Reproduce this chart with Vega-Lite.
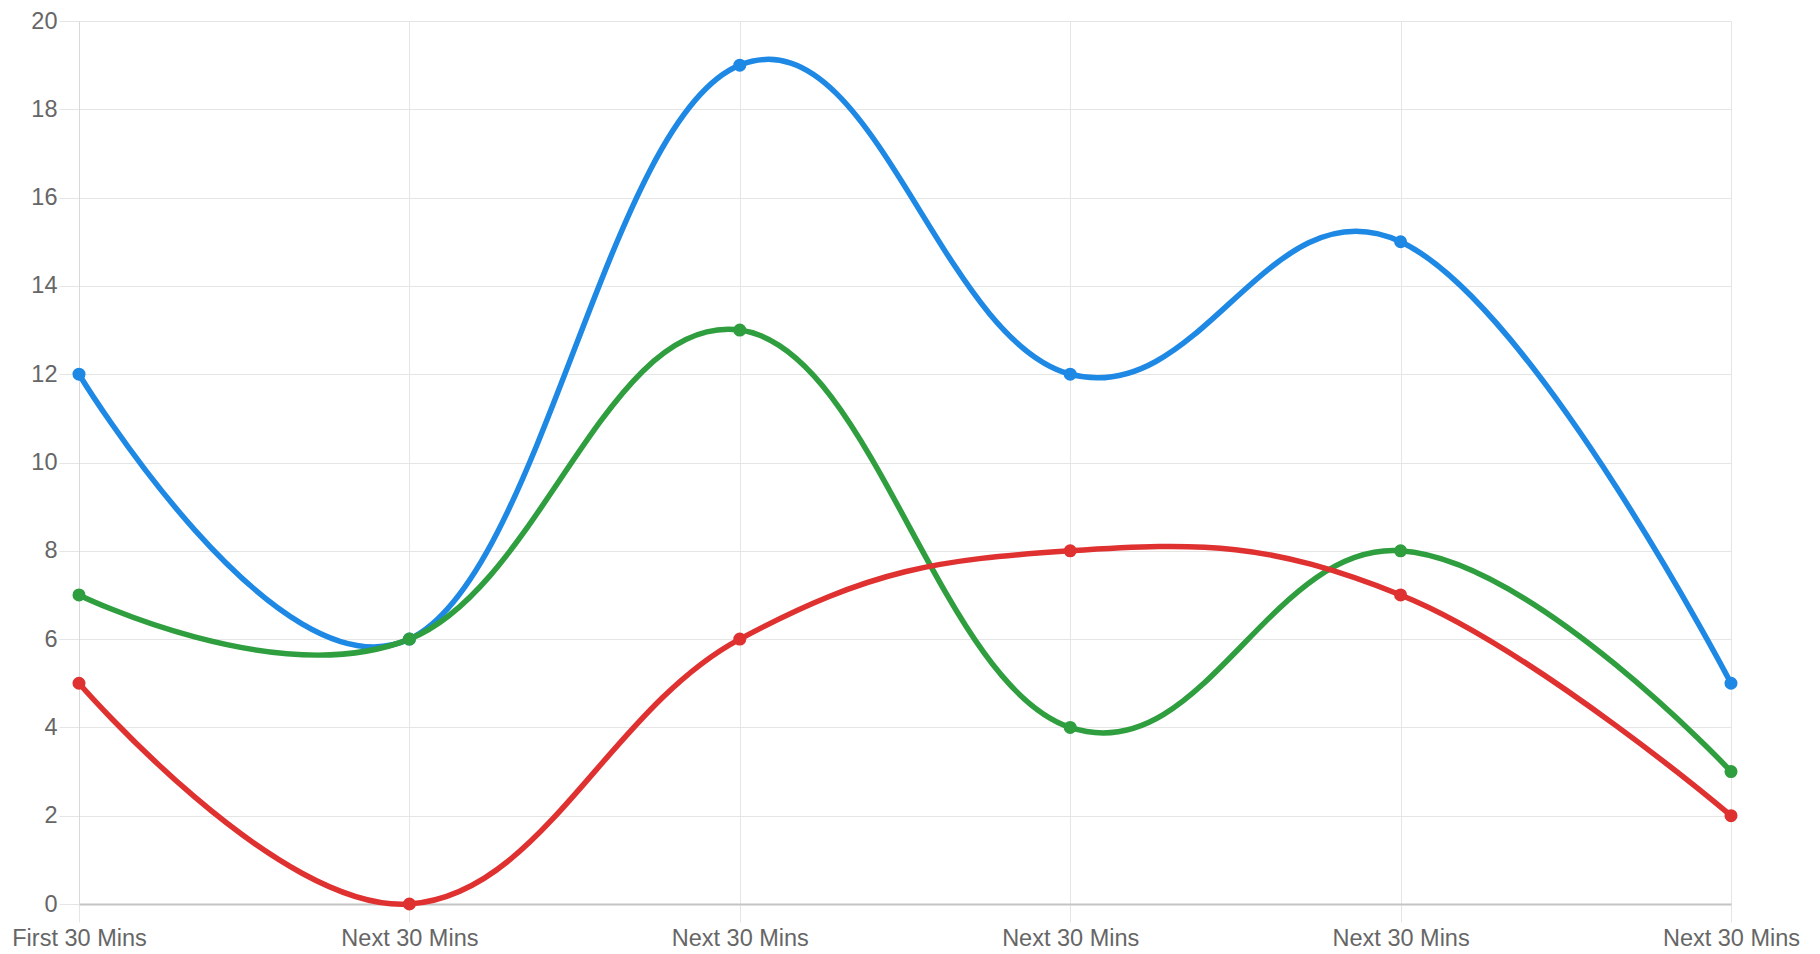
{
  "$schema": "https://vega.github.io/schema/vega-lite/v6.json",
  "width": 1652,
  "height": 883,
  "autosize": {"type": "none"},
  "padding": {"left": 79, "top": 21, "right": 89, "bottom": 50},
  "background": "white",
  "config": {
    "view": {"stroke": null},
    "font": "Liberation Sans"
  },
  "data": {
    "values": [
      {"i": 0, "s": "a", "v": 12}, {"i": 1, "s": "a", "v": 6}, {"i": 2, "s": "a", "v": 19},
      {"i": 3, "s": "a", "v": 12}, {"i": 4, "s": "a", "v": 15}, {"i": 5, "s": "a", "v": 5},
      {"i": 0, "s": "b", "v": 7}, {"i": 1, "s": "b", "v": 6}, {"i": 2, "s": "b", "v": 13},
      {"i": 3, "s": "b", "v": 4}, {"i": 4, "s": "b", "v": 8}, {"i": 5, "s": "b", "v": 3},
      {"i": 0, "s": "c", "v": 5}, {"i": 1, "s": "c", "v": 0}, {"i": 2, "s": "c", "v": 6},
      {"i": 3, "s": "c", "v": 8}, {"i": 4, "s": "c", "v": 7}, {"i": 5, "s": "c", "v": 2}
    ]
  },
  "encoding": {
    "x": {
      "field": "i", "type": "quantitative",
      "scale": {"domain": [0, 5], "nice": false, "zero": false},
      "axis": {
        "title": null,
        "values": [0, 1, 2, 3, 4, 5],
        "labelExpr": "datum.value == 0 ? 'First 30 Mins' : 'Next 30 Mins'",
        "labelFontSize": 23.5, "labelColor": "#666666", "labelFont": "Liberation Sans",
        "labelOverlap": false, "labelFlush": false, "labelBound": false,
        "tickSize": 18, "tickColor": "#e5e5e5", "tickWidth": 1,
        "labelPadding": 4,
        "grid": true, "gridColor": "#e5e5e5", "gridWidth": 1,
        "domainColor": "#c4c4c4", "domainWidth": 2
      }
    },
    "y": {
      "field": "v", "type": "quantitative",
      "scale": {"domain": [0, 20], "nice": false},
      "axis": {
        "title": null,
        "values": [0, 2, 4, 6, 8, 10, 12, 14, 16, 18, 20],
        "labelFontSize": 23.5, "labelColor": "#666666", "labelFont": "Liberation Sans",
        "tickSize": 20, "tickColor": "#e5e5e5", "tickWidth": 1,
        "labelPadding": 2,
        "grid": true, "gridColor": "#e5e5e5", "gridWidth": 1,
        "domainColor": "#d9d9d9", "domainWidth": 1
      }
    },
    "color": {
      "field": "s", "type": "nominal",
      "scale": {"domain": ["a", "b", "c"], "range": ["#1e88e5", "#2e9e3e", "#e03131"]},
      "legend": null
    }
  },
  "layer": [
    {"mark": {"type": "line", "interpolate": "cardinal", "tension": -0.2, "strokeWidth": 5.5}},
    {"mark": {"type": "point", "filled": true, "size": 170, "opacity": 1}}
  ]
}
